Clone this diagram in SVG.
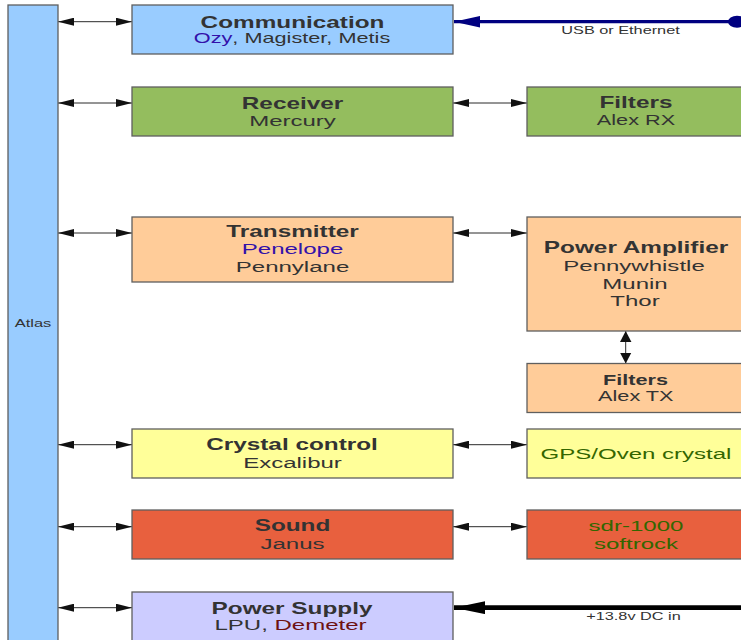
<svg xmlns="http://www.w3.org/2000/svg" width="741" height="640" viewBox="0 0 741 640">
<style>
.box{stroke:#5f5f5f;stroke-width:1.3}
.blue{fill:#99ccff}.green{fill:#94bd5e}.orange{fill:#ffcc99}.yellow{fill:#ffff99}.red{fill:#e8603e}.lav{fill:#ccccff}
text{font-family:"Liberation Sans",Arial,sans-serif;text-anchor:middle;fill:#333333}
.t{font-weight:bold;font-size:15.7px}
.s{font-size:15.5px}
.s14{font-size:14px}
.t14{font-weight:bold;font-size:14px}
.sm{font-size:10.5px}
.hl{fill:#3311aa}.dr{fill:#6e1212}.gr{fill:#336600}
.conn{stroke:#2a2a2a;stroke-width:1;fill:none}
</style>
<defs>
<marker id="ah" markerUnits="userSpaceOnUse" markerWidth="17" markerHeight="8" refX="16" refY="4" orient="auto-start-reverse" viewBox="0 0 16 8">
<path d="M0,0 L16,4 L0,8 Z" fill="#111"/>
</marker>
<marker id="av" markerUnits="userSpaceOnUse" markerWidth="11" markerHeight="12" refX="10.5" refY="5.5" orient="auto-start-reverse" viewBox="0 0 10.5 11">
<path d="M0,0 L10.5,5.5 L0,11 Z" fill="#111"/>
</marker>
<marker id="anavy" markerUnits="userSpaceOnUse" markerWidth="26" markerHeight="12" refX="25" refY="5.5" orient="auto" viewBox="0 0 25 11">
<path d="M0,0 L25,5.5 L0,11 Z" fill="#000080"/>
</marker>
<marker id="ablk" markerUnits="userSpaceOnUse" markerWidth="31" markerHeight="13" refX="30" refY="6.2" orient="auto" viewBox="0 0 30 12.4">
<path d="M0,0 L30,6.2 L0,12.4 Z" fill="#000"/>
</marker>
</defs>

<g id="connectors">
<line class="conn" x1="58" y1="21.7" x2="132" y2="21.7" marker-start="url(#ah)" marker-end="url(#ah)"/>
<line class="conn" x1="58" y1="103" x2="132" y2="103" marker-start="url(#ah)" marker-end="url(#ah)"/>
<line class="conn" x1="58" y1="233" x2="132" y2="233" marker-start="url(#ah)" marker-end="url(#ah)"/>
<line class="conn" x1="58" y1="444.7" x2="132" y2="444.7" marker-start="url(#ah)" marker-end="url(#ah)"/>
<line class="conn" x1="58" y1="526.7" x2="132" y2="526.7" marker-start="url(#ah)" marker-end="url(#ah)"/>
<line class="conn" x1="58" y1="607.7" x2="132" y2="607.7" marker-start="url(#ah)" marker-end="url(#ah)"/>
<line class="conn" x1="453" y1="103" x2="527" y2="103" marker-start="url(#ah)" marker-end="url(#ah)"/>
<line class="conn" x1="453" y1="233" x2="527" y2="233" marker-start="url(#ah)" marker-end="url(#ah)"/>
<line class="conn" x1="453" y1="444.7" x2="527" y2="444.7" marker-start="url(#ah)" marker-end="url(#ah)"/>
<line class="conn" x1="453" y1="526.7" x2="527" y2="526.7" marker-start="url(#ah)" marker-end="url(#ah)"/>
<line class="conn" x1="625.7" y1="331" x2="625.7" y2="363.5" stroke-width="1.7" marker-start="url(#av)" marker-end="url(#av)"/>
<line x1="734" y1="21.7" x2="454" y2="21.7" stroke="#000080" stroke-width="3.3" marker-end="url(#anavy)"/>
<ellipse cx="737" cy="21.7" rx="9" ry="6" fill="#000080"/>
<text class="sm" transform="translate(620.5,34) scale(1.55,1)">USB or Ethernet</text>
<line x1="745" y1="607.7" x2="454" y2="607.7" stroke="#000" stroke-width="4.7" marker-end="url(#ablk)"/>
<text class="sm" transform="translate(633.5,620) scale(1.55,1)">+13.8v DC in</text>
</g>

<g id="atlas">
<rect class="box blue" x="8" y="5" width="50" height="650"/>
<text style="font-size:11px" transform="translate(33,326.7) scale(1.5,1)">Atlas</text>
</g>

<g id="communication">
<rect class="box blue" x="132" y="5" width="321" height="49"/>
<text class="t" transform="translate(292.5,27.5) scale(1.55,1)">Communication</text>
<text class="s14" transform="translate(292,42.8) scale(1.55,1)"><tspan class="hl">Ozy</tspan>, Magister, Metis</text>
</g>

<g id="receiver">
<rect class="box green" x="132" y="87" width="321" height="49"/>
<text class="t" transform="translate(292.5,108.5) scale(1.55,1)">Receiver</text>
<text class="s" transform="translate(292.5,125.5) scale(1.55,1)">Mercury</text>
</g>

<g id="filters-rx">
<rect class="box green" x="527" y="87" width="220" height="49"/>
<text class="t" transform="translate(636,108.3) scale(1.55,1)">Filters</text>
<text class="s14" transform="translate(636,125) scale(1.55,1)">Alex RX</text>
</g>

<g id="transmitter">
<rect class="box orange" x="132" y="217" width="321" height="65"/>
<text class="t" transform="translate(292.5,236.7) scale(1.55,1)">Transmitter</text>
<text class="s hl" transform="translate(292.5,254.3) scale(1.55,1)">Penelope</text>
<text class="s" transform="translate(292.5,271.7) scale(1.55,1)">Pennylane</text>
</g>

<g id="power-amplifier">
<rect class="box orange" x="527" y="217" width="220" height="114"/>
<text class="t" transform="translate(636,252.7) scale(1.55,1)">Power Amplifier</text>
<text class="s" transform="translate(634,270.7) scale(1.55,1)">Pennywhistle</text>
<text class="s" transform="translate(635,289) scale(1.55,1)">Munin</text>
<text class="s" transform="translate(635,306.3) scale(1.55,1)">Thor</text>
</g>

<g id="filters-tx">
<rect class="box orange" x="527" y="363.5" width="220" height="49"/>
<text class="t14" transform="translate(635.5,385) scale(1.55,1)">Filters</text>
<text class="s14" transform="translate(635.8,401) scale(1.55,1)">Alex TX</text>
</g>

<g id="crystal-control">
<rect class="box yellow" x="132" y="429" width="321" height="49"/>
<text class="t" transform="translate(292,450) scale(1.55,1)">Crystal control</text>
<text class="s" transform="translate(292.5,467.7) scale(1.55,1)">Excalibur</text>
</g>

<g id="gps">
<rect class="box yellow" x="527" y="429" width="220" height="49"/>
<text class="s gr" transform="translate(636,458.5) scale(1.55,1)">GPS/Oven crystal</text>
</g>

<g id="sound">
<rect class="box red" x="132" y="510" width="321" height="49"/>
<text class="t" transform="translate(292.5,531) scale(1.55,1)">Sound</text>
<text class="s" transform="translate(292.5,549) scale(1.55,1)">Janus</text>
</g>

<g id="sdr">
<rect class="box red" x="527" y="510" width="220" height="49"/>
<text class="s gr" transform="translate(636,531) scale(1.55,1)">sdr-1000</text>
<text class="s gr" transform="translate(636,549) scale(1.55,1)">softrock</text>
</g>

<g id="power-supply">
<rect class="box lav" x="132" y="592" width="321" height="60"/>
<text class="t" transform="translate(292,614) scale(1.55,1)">Power Supply</text>
<text class="s" transform="translate(290.5,630.3) scale(1.55,1)">LPU, <tspan class="dr">Demeter</tspan></text>
</g>
</svg>
